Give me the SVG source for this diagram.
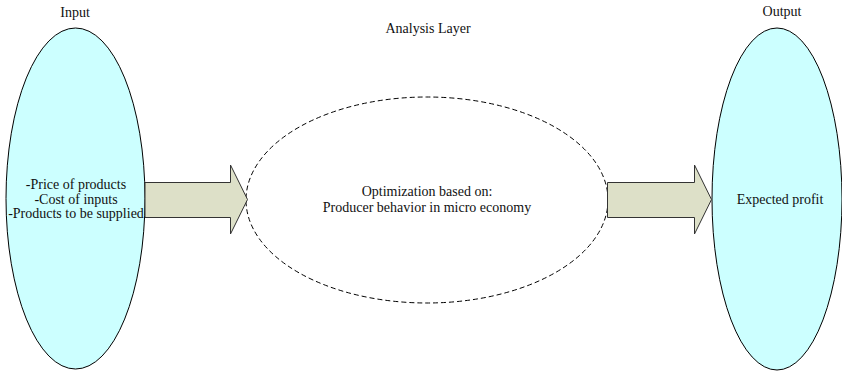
<svg xmlns="http://www.w3.org/2000/svg" width="842" height="373" viewBox="0 0 842 373">
<style>
.t{font-family:'Liberation Serif', 'DejaVu Serif', serif;font-size:14px;fill:#111;text-anchor:middle}
.io{fill:#ccffff;stroke:#000;stroke-width:1}
.arrow{fill:#dde0c8;stroke:#333;stroke-width:1}
</style>
<rect width="842" height="373" fill="#fff"/>
<g id="input">
<ellipse class="io" cx="75.5" cy="198.5" rx="69.5" ry="170.5"/>
<text class="t" x="75" y="17">Input</text>
<text class="t" x="76" y="189">-Price of products</text>
<text class="t" x="76" y="203.5">-Cost of inputs</text>
<text class="t" x="76" y="218">-Products to be supplied</text>
</g>
<g id="analysis">
<ellipse cx="427" cy="200" rx="181" ry="103" fill="none" stroke="#000" stroke-width="1" stroke-dasharray="5,3"/>
<text class="t" x="428" y="33">Analysis Layer</text>
<text class="t" x="427" y="196">Optimization based on:</text>
<text class="t" x="427" y="212">Producer behavior in micro economy</text>
</g>
<g id="output">
<ellipse class="io" cx="777" cy="199" rx="65" ry="171"/>
<text class="t" x="782" y="16">Output</text>
<text class="t" x="780" y="204">Expected profit</text>
</g>
<g id="connectors">
<polygon class="arrow" points="145,182.5 230.5,182.5 230.5,165 247.5,199.5 230.5,234 230.5,217.5 145,217.5"/>
<polygon class="arrow" points="607.5,182.5 694.5,182.5 694.5,165 711.5,199.5 694.5,234 694.5,217.5 607.5,217.5"/>
</g>
</svg>
